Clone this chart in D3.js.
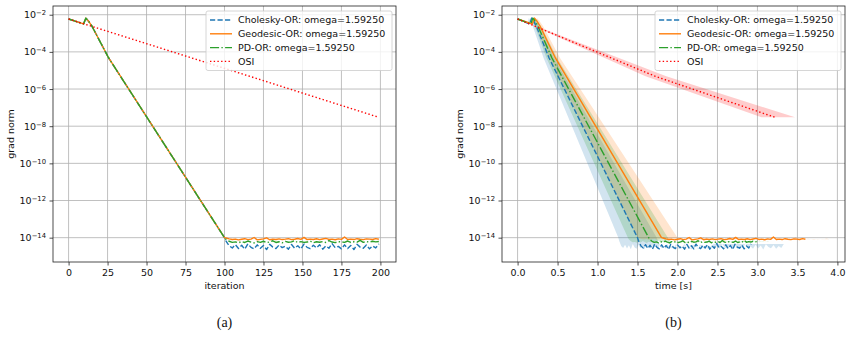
<!DOCTYPE html>
<html><head><meta charset="utf-8">
<script src="https://cdn.jsdelivr.net/npm/d3@7"></script>
<style>
body{margin:0;background:#fff}
svg{display:block}
text{font-family:"DejaVu Sans",sans-serif}
text.caption{font-family:"Liberation Serif","DejaVu Serif",serif}
</style>
</head><body><svg id="c" width="852" height="337"></svg>
<script>
// ---------------- DATA ----------------
const iterTicks = [0, 25, 50, 75, 100, 125, 150, 175, 200];
const timeTicks = [0, 0.5, 1.0, 1.5, 2.0, 2.5, 3.0, 3.5, 4.0];
const yTickExps = [-2, -4, -6, -8, -10, -12, -14];
const seriesNames = ["Cholesky-OR: omega=1.59250", "Geodesic-OR: omega=1.59250", "PD-OR: omega=1.59250", "OSI"];
const seriesColors = ["#1f77b4", "#ff7f0e", "#2ca02c", "#ff0000"];

// shared descent phase of the three OR methods (iteration, grad norm)
const descentIter = [0, 9.6, 11.1, 12.8, 15, 25.7, 100];
const descentVal = [5.9e-3, 3.2e-3, 6.6e-3, 4.5e-3, 2.4e-3, 4.7e-5, 1.0e-14];

// plateau (iterations 101,103,...,199), in units of 1e-15
const tailUnit = 1e-15;
const choleskyTail = [6.5, 3.6, 2.8, 4.2, 2.6, 3.9, 2.4, 4.6, 3.0, 2.5, 4.1, 2.7, 3.8, 2.3, 4.4, 3.1, 2.6, 4.0, 2.9, 3.5, 2.4, 4.3, 2.7, 3.7, 2.5, 4.5, 3.0, 2.6, 3.9, 2.8, 4.2, 2.4, 3.6, 2.7, 4.8, 2.9, 3.4, 2.5, 4.1, 2.6, 3.8, 2.3, 4.4, 3.1, 2.7, 4.0, 2.5, 3.6, 2.8, 4.6];
const geodesicTail = [9.6, 8.6, 8.0, 8.4, 7.6, 8.2, 8.8, 7.8, 8.3, 10.2, 7.6, 8.1, 8.6, 9.8, 7.7, 8.4, 8.0, 8.6, 7.9, 8.3, 8.8, 7.8, 8.2, 9.0, 8.1, 10.4, 7.9, 8.4, 8.0, 8.7, 7.8, 8.5, 9.2, 8.0, 8.3, 7.7, 8.6, 8.1, 10.8, 8.0, 8.4, 7.9, 8.8, 8.2, 7.8, 8.6, 8.3, 8.0, 8.9, 8.2];
const pdTail = [8.0, 6.4, 5.6, 5.9, 5.3, 6.2, 5.5, 6.6, 5.8, 5.2, 6.1, 5.6, 6.4, 5.4, 5.9, 6.8, 5.5, 6.0, 5.3, 6.3, 5.7, 5.9, 6.9, 5.4, 6.1, 5.6, 5.8, 6.5, 5.3, 6.0, 5.7, 6.2, 5.5, 7.0, 5.8, 5.4, 6.1, 5.9, 5.6, 6.6, 5.5, 6.0, 5.7, 7.2, 5.6, 6.1, 5.8, 6.4, 5.9, 6.2];

// wall-clock time [s] at key iterations (mean, min, max over runs)
const timeKeyIter = [0, 11, 100, 199];
const choleskyTimeMean = [0, 0.175, 1.50, 2.92];
const choleskyTimeMin  = [0, 0.14, 1.26, 2.45];
const choleskyTimeMax  = [0, 0.20, 1.74, 3.33];
const geodesicTimeMean = [0, 0.21, 1.80, 3.60];
const geodesicTimeMin  = [0, 0.18, 1.50, 3.10];
const geodesicTimeMax  = [0, 0.24, 2.00, 3.90];
const pdTimeMean = [0, 0.19, 1.64, 3.00];
const pdTimeMin  = [0, 0.16, 1.38, 2.60];
const pdTimeMax  = [0, 0.22, 1.88, 3.15];

// OSI
const osiIter = [0, 116, 199];
const osiVal = [5.9e-3, 4.9e-6, 3.0e-8];
const osiTimeMean = [0, 1.72, 3.22];
const osiTimeMin  = [0, 1.60, 3.05];
const osiTimeMax  = [0, 1.86, 3.47];

// ---------------- BUILD ----------------
const tailIter = d3.range(101, 200, 2);
function orSeries(tail) {
  const pts = descentIter.map((it, k) => ({i: it, v: descentVal[k]}));
  tail.forEach((t, k) => pts.push({i: tailIter[k], v: t * tailUnit}));
  return pts;
}
const series = [
  {pts: orSeries(choleskyTail), tm: choleskyTimeMean, t0: choleskyTimeMin, t1: choleskyTimeMax, key: timeKeyIter, dash: "5.2,2.3"},
  {pts: orSeries(geodesicTail), tm: geodesicTimeMean, t0: geodesicTimeMin, t1: geodesicTimeMax, key: timeKeyIter, dash: null},
  {pts: orSeries(pdTail), tm: pdTimeMean, t0: pdTimeMin, t1: pdTimeMax, key: timeKeyIter, dash: "9.1,2.3,1.4,2.3"},
  {pts: osiIter.map((it, k) => ({i: it, v: osiVal[k]})), tm: osiTimeMean, t0: osiTimeMin, t1: osiTimeMax, key: osiIter, dash: "1.4,2.3"}
];
series.forEach((s, k) => {
  s.color = seriesColors[k];
  s.name = seriesNames[k];
  s.tMean = d3.scaleLinear().domain(s.key).range(s.tm);
  s.tMin = d3.scaleLinear().domain(s.key).range(s.t0);
  s.tMax = d3.scaleLinear().domain(s.key).range(s.t1);
});

const svg = d3.select("#c");
const yTop = 6, yBottom = 262;
const y = d3.scaleLog().domain([Math.pow(10, -15.31), Math.pow(10, -1.53)]).range([yBottom, yTop]);

const panels = [
  {x0: 53, x1: 396, domain: [-10, 210], ticks: iterTicks, fmt: d => String(d), xlabel: "iteration", caption: "(a)", time: false},
  {x0: 502, x1: 845, domain: [-0.195, 4.095], ticks: timeTicks, fmt: d3.format(".1f"), xlabel: "time [s]", caption: "(b)", time: true}
];

panels.forEach((p, pi) => {
  const x = d3.scaleLinear().domain(p.domain).range([p.x0, p.x1]);
  const g = svg.append("g");
  const clipId = "clip" + pi;
  svg.append("clipPath").attr("id", clipId).append("rect")
    .attr("x", p.x0).attr("y", yTop).attr("width", p.x1 - p.x0).attr("height", yBottom - yTop);

  // grid
  const grid = g.append("g").attr("stroke", "#b0b0b0").attr("stroke-width", 0.8);
  p.ticks.forEach(t => grid.append("line").attr("x1", x(t)).attr("x2", x(t)).attr("y1", yTop).attr("y2", yBottom));
  yTickExps.forEach(e => grid.append("line").attr("x1", p.x0).attr("x2", p.x1).attr("y1", y(Math.pow(10, e))).attr("y2", y(Math.pow(10, e))));

  const plot = g.append("g").attr("clip-path", `url(#${clipId})`);

  if (p.time) {
    series.forEach(s => {
      const area = d3.area()
        .x0(d => x(s.tMin(d.i))).x1(d => x(s.tMax(d.i))).y(d => y(d.v));
      plot.append("path").attr("d", area(s.pts))
        .attr("fill", s.color).attr("fill-opacity", 0.2).attr("stroke", "none");
    });
  }
  series.forEach(s => {
    const line = d3.line()
      .x(d => p.time ? x(s.tMean(d.i)) : x(d.i))
      .y(d => y(d.v));
    plot.append("path").attr("d", line(s.pts))
      .attr("fill", "none").attr("stroke", s.color).attr("stroke-width", 1.4)
      .attr("stroke-dasharray", s.dash).attr("stroke-linejoin", "round");
  });

  // axes
  const xa = g.append("g").attr("transform", `translate(0,${yBottom})`)
    .call(d3.axisBottom(x).tickValues(p.ticks).tickFormat(p.fmt).tickSize(3.5).tickPadding(3.5));
  const ya = g.append("g").attr("transform", `translate(${p.x0},0)`)
    .call(d3.axisLeft(y).tickValues(yTickExps.map(e => Math.pow(10, e))).tickSize(3.5).tickPadding(3.5).tickFormat(""));
  [xa, ya].forEach(a => {
    a.select(".domain").remove();
    a.selectAll("line").attr("stroke", "#222").attr("stroke-width", 0.8);
    a.selectAll("text").attr("font-size", 9.5).attr("fill", "#111").attr("font-family", "DejaVu Sans");
  });
  ya.selectAll(".tick").each(function(d, k) {
    const t = d3.select(this).select("text");
    t.attr("dy", "0.32em").text(null);
    t.append("tspan").text("10");
    t.append("tspan").attr("font-size", 6.8).attr("dy", "-0.45em").text("\u2212" + Math.abs(yTickExps[k]));
  });

  // frame
  g.append("rect").attr("x", p.x0).attr("y", yTop).attr("width", p.x1 - p.x0).attr("height", yBottom - yTop)
    .attr("fill", "none").attr("stroke", "#222").attr("stroke-width", 0.8);

  // labels
  g.append("text").attr("x", (p.x0 + p.x1) / 2).attr("y", 289).attr("text-anchor", "middle")
    .attr("font-size", 9.5).attr("fill", "#111").text(p.xlabel);
  g.append("text").attr("transform", `translate(${p.x0 - 39},${(yTop + yBottom) / 2}) rotate(-90)`)
    .attr("text-anchor", "middle").attr("font-size", 9.5).attr("fill", "#111").text("grad norm");
  g.append("text").attr("class", "caption").attr("x", (p.x0 + p.x1) / 2).attr("y", 327).attr("text-anchor", "middle")
    .attr("font-size", 14).attr("fill", "#111").text(p.caption);

  // legend
  const lx = p.x1 - 190, ly = 11, lw = 186, lh = 59.5;
  const lg = g.append("g");
  lg.append("rect").attr("x", lx).attr("y", ly).attr("width", lw).attr("height", lh).attr("rx", 2)
    .attr("fill", "#fff").attr("fill-opacity", 0.8).attr("stroke", "#cccccc").attr("stroke-width", 0.8);
  series.forEach((s, k) => {
    const cy = ly + 9 + k * 13.8;
    lg.append("line").attr("x1", lx + 4).attr("x2", lx + 26).attr("y1", cy).attr("y2", cy)
      .attr("stroke", s.color).attr("stroke-width", 1.4).attr("stroke-dasharray", s.dash);
    lg.append("text").attr("x", lx + 32).attr("y", cy).attr("dy", "0.35em")
      .attr("font-size", 9.5).attr("fill", "#111").text(s.name);
  });
});
</script>
</body></html>
